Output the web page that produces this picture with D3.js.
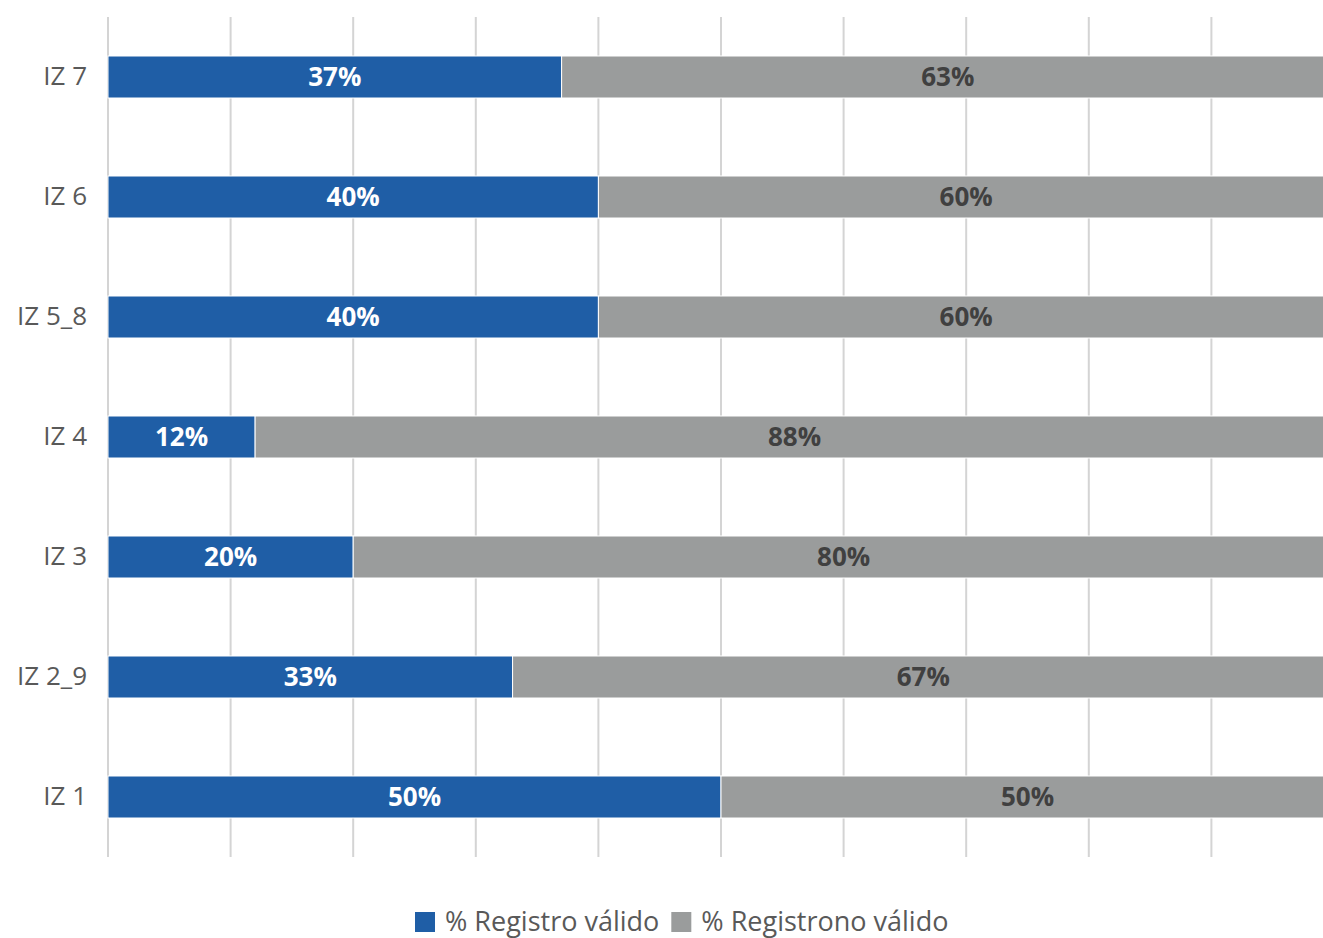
<!DOCTYPE html>
<html>
<head>
<meta charset="utf-8">
<script src="https://d3js.org/d3.v7.min.js"></script>
<style>
  body { margin: 0; background: #fff; overflow: hidden; }
  svg { display: block; font-family: "Open Sans", "Noto Sans", sans-serif; }
</style>
</head>
<body>
<div id="chart"></div>
<script>
// data, top of chart first
var categories = ["IZ 7", "IZ 6", "IZ 5_8", "IZ 4", "IZ 3", "IZ 2_9", "IZ 1"];
var validos    = [37, 40, 40, 12, 20, 33, 50];
var noValidos  = [63, 60, 60, 88, 80, 67, 50];
var seriesNames = ["% Registro válido", "% Registrono válido"];
var xTicks = [0, 10, 20, 30, 40, 50, 60, 70, 80, 90, 100];

var WIDTH = 1323, HEIGHT = 938;
var BLUE = "#1f5ea6", GREY = "#9a9c9c";

var svg = d3.select("#chart").append("svg")
    .attr("width", WIDTH)
    .attr("height", HEIGHT);

// 100% sits just past the right edge of the picture
var x = d3.scaleLinear().domain([0, 100]).range([108, 1334]);
var y = d3.scaleBand().domain(categories).range([17, 857]).paddingInner(0.65).paddingOuter(0.325);

// vertical gridlines
svg.append("g")
    .selectAll("line")
    .data(xTicks)
    .enter().append("line")
    .attr("x1", d => x(d)).attr("x2", d => x(d))
    .attr("y1", 17).attr("y2", 857)
    .attr("stroke", "#d4d4d4")
    .attr("stroke-width", 2);

var rows = categories.map(function(c, i) {
    return { cat: c, a: validos[i], b: noValidos[i] };
});

var row = svg.append("g").selectAll("g")
    .data(rows)
    .enter().append("g");

row.append("rect")
    .attr("x", d => x(0))
    .attr("y", d => y(d.cat))
    .attr("width", d => x(d.a) - x(0))
    .attr("height", y.bandwidth())
    .attr("fill", BLUE)
    .attr("stroke", "#fff").attr("stroke-width", 1);

row.append("rect")
    .attr("x", d => x(d.a))
    .attr("y", d => y(d.cat))
    .attr("width", d => x(d.a + d.b) - x(d.a))
    .attr("height", y.bandwidth())
    .attr("fill", GREY)
    .attr("stroke", "#fff").attr("stroke-width", 1);

row.append("text")
    .attr("x", d => (x(0) + x(d.a)) / 2)
    .attr("y", d => y(d.cat) + y.bandwidth() / 2)
    .attr("dy", "0.36em")
    .attr("text-anchor", "middle")
    .attr("fill", "#fff")
    .attr("font-weight", "bold")
    .attr("font-size", 26)
    .text(d => d.a + "%");

row.append("text")
    .attr("x", d => (x(d.a) + x(d.a + d.b)) / 2)
    .attr("y", d => y(d.cat) + y.bandwidth() / 2)
    .attr("dy", "0.36em")
    .attr("text-anchor", "middle")
    .attr("fill", "#404040")
    .attr("font-weight", "bold")
    .attr("font-size", 26)
    .text(d => d.b + "%");

// category axis
var yAxis = svg.append("g")
    .attr("transform", "translate(" + (x(0) - 21) + ",0)")
    .call(d3.axisLeft(y).tickSize(0).tickPadding(0));
yAxis.select(".domain").remove();
yAxis.selectAll("text")
    .attr("font-family", "'Open Sans', 'Noto Sans', sans-serif")
    .attr("font-size", 26)
    .attr("fill", "#595959");

// legend
var legend = svg.append("g").attr("transform", "translate(415,921)");
var lx = 0;
seriesNames.forEach(function(name, i) {
    var g = legend.append("g").attr("transform", "translate(" + lx + ",0)");
    g.append("rect")
        .attr("x", 0).attr("y", -9)
        .attr("width", 20).attr("height", 20)
        .attr("fill", i === 0 ? BLUE : GREY);
    var t = g.append("text")
        .attr("x", 30).attr("y", 0)
        .attr("dy", "0.36em")
        .attr("font-size", 27)
        .attr("fill", "#595959")
        .text(name);
    lx += 30 + t.node().getComputedTextLength() + 12;
});
</script>
</body>
</html>
